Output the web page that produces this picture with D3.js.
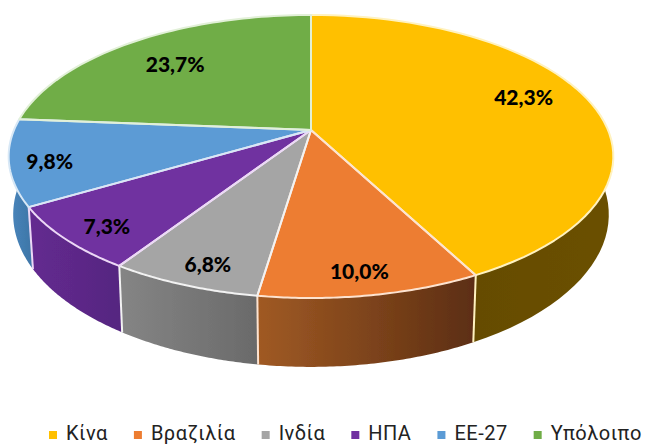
<!DOCTYPE html>
<html><head><meta charset="utf-8">
<style>html,body{margin:0;padding:0;background:#fff}svg{display:block}</style>
<script src="https://cdn.jsdelivr.net/npm/d3@7"></script></head>
<body><div id="chart"></div>
<script>
const categories = ["Κίνα","Βραζιλία","Ινδία","ΗΠΑ","ΕΕ-27","Υπόλοιπο"];
const values = [42.3,10.0,6.8,7.3,9.8,23.7];
const topColors = ["#FFC000","#ED7D31","#A5A5A5","#7030A0","#5B9BD5","#70AD47"];
const sideStart = ["#6b5000","#a05a24","#858585","#642a90","#4a86bd","#5c8f3a"];
const sideEnd   = ["#5e4700","#5c2e12","#6a6a6a","#552680","#3d75a6","#4f7c32"];
const edgeColors = ["#fff2c0","#fde3d0","#f2f2f2","#ecd8f6","#d8e8f6","#e2f0d8"];
const labelFx = [.77,.80,.81,.83,.865,.767];
const labelFy = [1.08,.85,.865,.88,.94,.75];

const W=650,H=444,cx=311,cy=130,a=297,b=136.6,k=.187,depth=56,shrink=.985;
const svg=d3.select("#chart").append("svg").attr("width",W).attr("height",H);
const defs=svg.append("defs");
defs.append("filter").attr("id","soft").append("feGaussianBlur").attr("stdDeviation",.45);
const pie=d3.pie().sort(null).value(d=>d).startAngle(0).endAngle(2*Math.PI);
const arcs=pie(values);
const proj=(t,f=1)=>{const s=Math.sin(t),c=Math.cos(t),d=1+k*f*c;return [cx+a*f*s/d,cy-b*f*c/d];};
const projB=t=>{const s=Math.sin(t),c=Math.cos(t),d=1+k*c;return [cx+shrink*a*s/d,cy+(depth-b*c)/d];};
const line=d3.line();
const samples=(s,e)=>d3.range(0,61).map(i=>s+(e-s)*i/60);

arcs.forEach((d,i)=>{
  const g=defs.append("linearGradient").attr("id","side"+i).attr("x1","0").attr("x2","1").attr("y1","0").attr("y2","0");
  g.append("stop").attr("offset","0").attr("stop-color",i===0?sideEnd[i]:sideStart[i]);
  g.append("stop").attr("offset","1").attr("stop-color",i===0?sideStart[i]:sideEnd[i]);
});
const pieG=svg.append("g").attr("filter","url(#soft)");
const sideG=pieG.append("g"),topG=pieG.append("g");
const frontOrder=[5,0,4,1,3,2];
frontOrder.forEach(i=>{
  const d=arcs[i],ts=samples(d.startAngle,d.endAngle);
  const pts=ts.map(t=>proj(t)).concat(ts.slice().reverse().map(t=>projB(t)));
  sideG.append("path").attr("d",line(pts)+"Z").attr("fill",`url(#side${i})`);
});
arcs.forEach((d,i)=>{
  const t=d.endAngle;
  if(t>Math.PI/2 && t<Math.PI*1.5)
    sideG.append("path").attr("d",line([proj(t),projB(t)])).attr("stroke",edgeColors[i]).attr("stroke-width",2).attr("fill","none");
});
arcs.forEach((d,i)=>{
  const pts=[[cx,cy]].concat(samples(d.startAngle,d.endAngle).map(t=>proj(t)));
  topG.append("path").attr("d",line(pts)+"Z").attr("fill",topColors[i]);
});
arcs.forEach((d,i)=>{
  const pts=[[cx,cy]].concat(samples(d.startAngle,d.endAngle).map(t=>proj(t)));
  topG.append("path").attr("d",line(pts)+"Z").attr("fill","none")
    .attr("stroke",edgeColors[i]).attr("stroke-width",2).attr("stroke-linejoin","round");
});
arcs.forEach((d,i)=>{
  const m=(d.startAngle+d.endAngle)/2,[x,y]=proj(m,1);
  svg.append("text").attr("x",cx+(x-cx)*labelFx[i]).attr("y",cy+(y-cy)*labelFy[i])
    .attr("text-anchor","middle").attr("dominant-baseline","central")
    .attr("font-family","Lato").attr("font-weight",900).attr("font-size",21).attr("fill","#000")
    .text(d3.format(".1f")(values[i]).replace(".",",")+"%");
});
let lx=49;
categories.forEach((c,i)=>{
  svg.append("rect").attr("x",lx).attr("y",431).attr("width",8).attr("height",8).attr("fill",topColors[i]);
  const t=svg.append("text").attr("x",lx+17).attr("y",439.5).attr("font-family","Roboto").attr("font-size",20)
    .attr("letter-spacing",.5).attr("fill","#222").text(c);
  lx+=17+t.node().getComputedTextLength()+26;
});
</script></body></html>
